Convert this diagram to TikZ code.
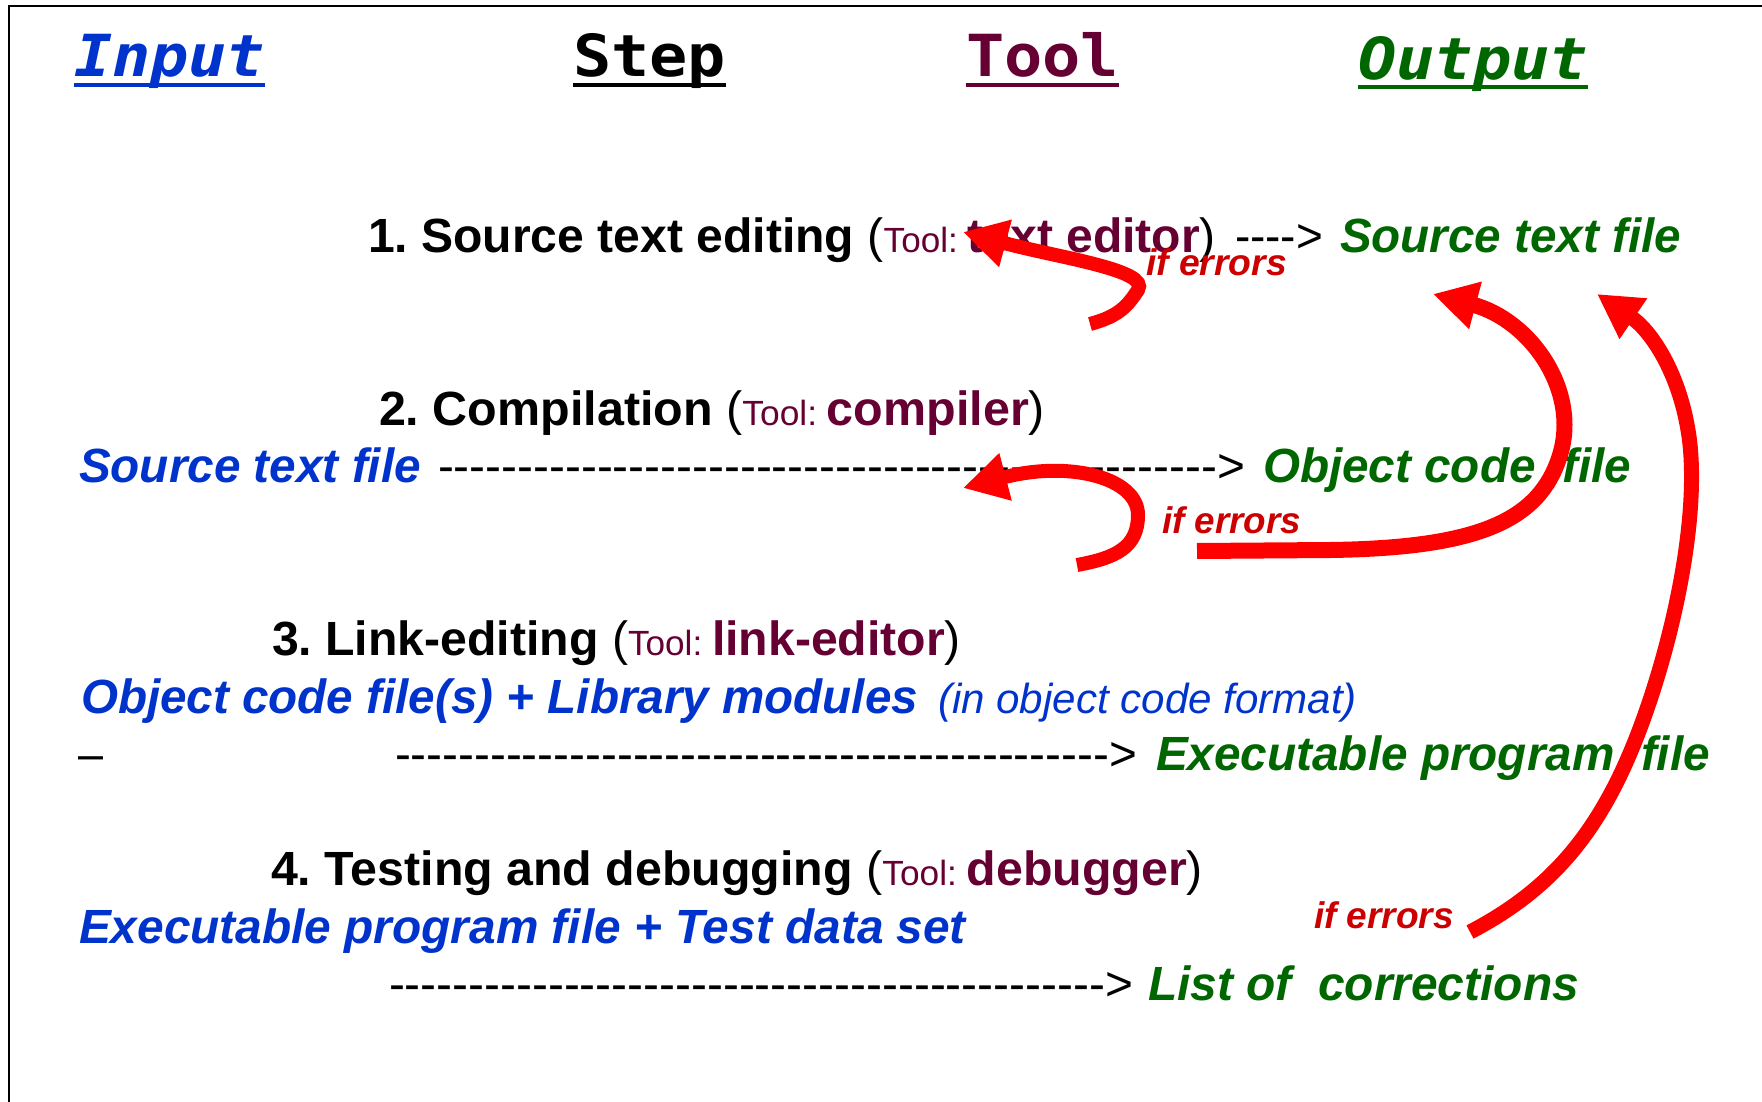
\documentclass[tikz,border=0pt]{standalone}
\usepackage{graphicx}
\usepackage{fontspec}
\setmainfont{Liberation Sans}
\newfontfamily\headfont{DejaVu Sans Mono}[BoldFont={DejaVu Sans Mono Bold},BoldItalicFont={DejaVu Sans Mono Bold Oblique}]
\usetikzlibrary{arrows.meta}
\frenchspacing

\definecolor{inblue}{HTML}{0033CC}
\definecolor{outgreen}{HTML}{006600}
\definecolor{toolred}{HTML}{660033}
\definecolor{errred}{HTML}{CC0000}
\definecolor{loopred}{HTML}{FF0000}

% set #2 and stretch it horizontally to exactly #1 pt
\newsavebox\fitbox
\newcommand\fitx[2]{\sbox\fitbox{#2}\pgfmathsetmacro\fitfac{#1/\the\wd\fitbox}\scalebox{\fitfac}[1]{\usebox\fitbox}}

% a row of #1 separate hyphens (kept apart so they never join into dashes)
\newcount\dashcnt
\newcommand\dashrow[1]{\dashcnt=#1\relax\loop\hbox{-}\advance\dashcnt by -1\relax\ifnum\dashcnt>0\repeat}

\newcommand\szmain{\fontsize{48}{58}\selectfont}
\newcommand\sztool{\fontsize{35}{42}\selectfont}
\newcommand\szerr{\fontsize{37}{44}\selectfont}
\newcommand\szhead{\fontsize{58}{70}\selectfont}
\newcommand\szpar{\fontsize{42}{50}\selectfont}

\newcommand\toolpart[1]{{\szmain(}{\sztool\color{toolred}Tool: }{\szmain\bfseries\color{toolred}#1}{\szmain)}}
\newcommand\infile[1]{{\szmain\bfseries\itshape\color{inblue}#1}}
\newcommand\outfile[1]{{\szmain\bfseries\itshape\color{outgreen}#1}}

\tikzset{
  txt/.style={anchor=base west, inner sep=0pt, outer sep=0pt},
  uline/.style={line width=4pt},
  errloop/.style={draw=loopred, line width=#1, -{Triangle[length=44pt,width=46pt]}},
  errloop/.default=14pt,
}

\begin{document}
\begin{tikzpicture}[x=1pt,y=-1pt]
\useasboundingbox (0,0) rectangle (1762,1102);
\fill[white] (0,0) rectangle (1762,1102);

% frame
\draw[line width=2pt] (9,1102) -- (9,6) -- (1762,6);

% column headings
\node[txt] (hin)   at (74,77)   {\fitx{191}{\headfont\szhead\bfseries\itshape\color{inblue}Input}};
\node[txt] (hstep) at (573,77)  {\fitx{153}{\headfont\szhead\bfseries Step}};
\node[txt] (htool) at (966,77)  {\fitx{153}{\headfont\szhead\bfseries\color{toolred}Tool}};
\node[txt] (hout)  at (1358,80) {\fitx{230}{\headfont\szhead\bfseries\itshape\color{outgreen}Output}};
\draw[uline,inblue]    ([yshift=-8pt]hin.base west)   -- ([yshift=-8pt]hin.base east);
\draw[uline,black]     ([yshift=-8pt]hstep.base west) -- ([yshift=-8pt]hstep.base east);
\draw[uline,toolred]   ([yshift=-8pt]htool.base west) -- ([yshift=-8pt]htool.base east);
\draw[uline,outgreen]  ([yshift=-7.5pt]hout.base west) -- ([yshift=-7.5pt]hout.base east);

% step 1
\node[txt] (s1) at (368,253) {\fitx{848}{{\szmain\bfseries 1. Source text editing }\toolpart{text editor}}};
\node[txt] (d1) at (1235,253) {\fitx{88}{\szmain\dashrow{4}>}};
\node[txt] (o1) at (1340,253) {\fitx{341}{\outfile{Source text file}}};

% step 2
\node[txt] (s2) at (379,425) {\fitx{666}{{\szmain\bfseries 2. Compilation }\toolpart{compiler}}};
\node[txt] (i2) at (79,482) {\fitx{342}{\infile{Source text file}}};
\node[txt] (d2) at (438,482) {\fitx{807}{\szmain\dashrow{49}>}};
\node[txt] (o2) at (1263,482) {\fitx{368}{\outfile{Object code\ \ file}}};

% step 3
\node[txt] (s3) at (272,655) {\fitx{689}{{\szmain\bfseries 3. Link-editing }\toolpart{link-editor}}};
\node[txt] (i3) at (81,713) {\fitx{837}{\infile{Object code file(s) + Library modules}}};
\node[txt] (p3) at (938,713) {\fitx{419}{\szpar\itshape\color{inblue}(in object code format)}};
\node[txt] (m3) at (78,770) {\fitx{25}{\szmain\textendash}};
\node[txt] (d3) at (395,770) {\fitx{742}{\szmain\dashrow{45}>}};
\node[txt] (o3) at (1156,770) {\fitx{554}{\outfile{Executable program\ \ file}}};

% step 4
\node[txt] (s4) at (271,885) {\fitx{932}{{\szmain\bfseries 4. Testing and debugging }\toolpart{debugger}}};
\node[txt] (i4) at (79,943) {\fitx{887}{\infile{Executable program file + Test data set}}};
\node[txt] (d4) at (389,1000) {\fitx{744}{\szmain\dashrow{45}>}};
\node[txt] (o4) at (1148,1000) {\fitx{431}{\outfile{List of\ \ corrections}}};

% error labels
\node[txt] (e1) at (1146,276) {\fitx{141}{\szerr\bfseries\itshape\color{errred}if errors}};
\node[txt] (e2) at (1162,533) {\fitx{139}{\szerr\bfseries\itshape\color{errred}if errors}};
\node[txt] (e3) at (1314,928) {\fitx{140}{\szerr\bfseries\itshape\color{errred}if errors}};

% feedback loops
\coordinate (t1) at (1090,324);  \coordinate (h1) at (963,232);
\coordinate (t2) at (1077,565);  \coordinate (h2) at (963,488);
\coordinate (t3) at (1197,551);  \coordinate (h3) at (1433,294);
\coordinate (t4) at (1470,932);  \coordinate (h4) at (1597,294);

\draw[errloop] (t1) .. controls (1120,316) and (1128,305) .. (1138,290)
                    .. controls (1150,270) and (1060,258) .. (h1);
\draw[errloop] (t2) .. controls (1115,558) and (1138,548) .. (1138,515)
                    .. controls (1138,478) and (1070,460) .. (h2);
\draw[errloop=16pt] (t3) -- (1330,550) .. controls (1480,548) and (1540,520) .. (1560,455)
                    .. controls (1580,390) and (1530,320) .. (h3);
\draw[errloop=15pt] (t4) .. controls (1560,885) and (1610,820) .. (1650,700)
                    .. controls (1680,610) and (1700,500) .. (1688,430)
                    .. controls (1678,370) and (1650,330) .. (h4);
\end{tikzpicture}
\end{document}
